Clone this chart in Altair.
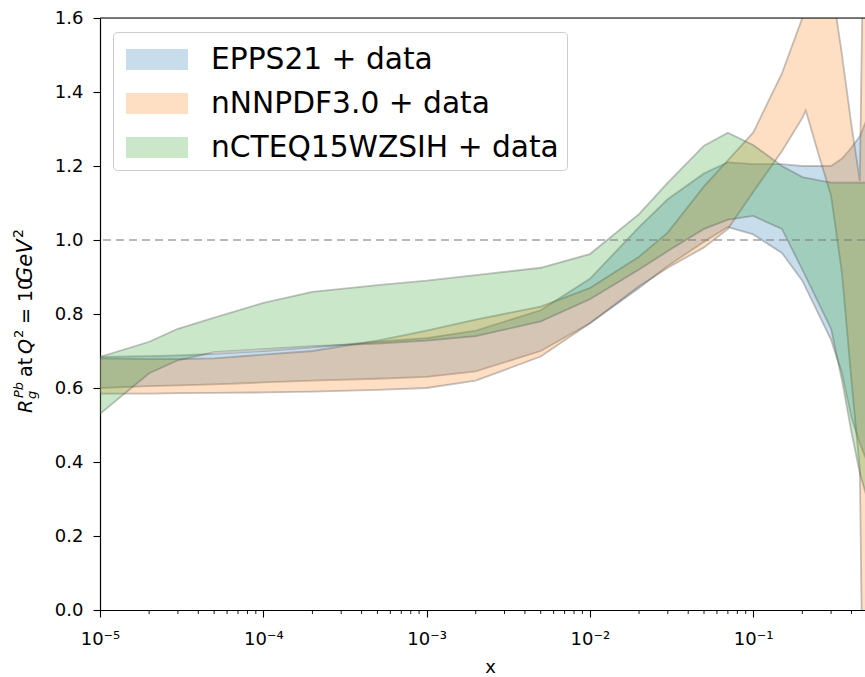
import altair as alt
import pandas as pd

# ---------------- data ----------------
x_base = [1e-5, 2e-5, 3e-5, 5e-5, 1e-4, 2e-4, 5e-4, 1e-3, 2e-3, 5e-3, 1e-2, 2e-2,
          3e-2, 5e-2, 7e-2, 0.1, 0.15, 0.2, 0.3, 0.35, 0.4, 0.45, 0.5]

epps_lo = [0.600, 0.605, 0.607, 0.610, 0.615, 0.620, 0.625, 0.630, 0.645, 0.700, 0.775, 0.870,
           0.930, 0.995, 1.035, 1.015, 0.965, 0.890, 0.730, 0.640, 0.520, 0.450, 0.400]
epps_hi = [0.684, 0.686, 0.688, 0.692, 0.700, 0.710, 0.725, 0.735, 0.755, 0.810, 0.895, 1.035,
           1.110, 1.180, 1.210, 1.205, 1.205, 1.200, 1.200, 1.220, 1.250, 1.280, 1.330]

x_nnpdf = [1e-5, 2e-5, 3e-5, 5e-5, 1e-4, 2e-4, 5e-4, 1e-3, 2e-3, 5e-3, 1e-2, 2e-2,
           3e-2, 5e-2, 7e-2, 0.1, 0.15, 0.2, 0.21, 0.25, 0.3, 0.35, 0.4, 0.45, 0.47, 0.5]
nnpdf_lo = [0.585, 0.585, 0.586, 0.587, 0.588, 0.590, 0.595, 0.600, 0.620, 0.685, 0.775, 0.875,
            0.925, 0.980, 1.030, 1.130, 1.240, 1.330, 1.350, 1.235, 1.120, 0.910, 0.620, 0.380,
            -0.300, -0.300]
nnpdf_hi = [0.680, 0.678, 0.678, 0.680, 0.690, 0.700, 0.728, 0.755, 0.785, 0.820, 0.870, 0.955,
            1.020, 1.145, 1.215, 1.290, 1.450, 1.600, 1.630, 1.720, 1.700, 1.500, 1.310, 1.160,
            1.750, 1.800]

ncteq_lo = [0.530, 0.640, 0.675, 0.697, 0.705, 0.713, 0.720, 0.728, 0.740, 0.780, 0.840, 0.920,
            0.970, 1.030, 1.055, 1.065, 1.030, 0.920, 0.760, 0.620, 0.480, 0.370, 0.300]
ncteq_hi = [0.684, 0.725, 0.760, 0.790, 0.830, 0.860, 0.878, 0.890, 0.905, 0.925, 0.962, 1.070,
            1.155, 1.255, 1.290, 1.257, 1.200, 1.170, 1.155, 1.155, 1.155, 1.155, 1.155]

models = ["EPPS21 + data", "nNNPDF3.0 + data", "nCTEQ15WZSIH + data"]
colors = ["#1f77b4", "#ff7f0e", "#2ca02c"]

x_ticks = [1e-5, 1e-4, 1e-3, 1e-2, 1e-1]
x_tick_labels = ["10⁻⁵", "10⁻⁴", "10⁻³", "10⁻²", "10⁻¹"]
x_max = 0.484
minor_ticks = [m * t for t in x_ticks for m in range(2, 10) if m * t <= x_max]
y_ticks = [0.0, 0.2, 0.4, 0.6, 0.8, 1.0, 1.2, 1.4, 1.6]
ref_line = [1.0]

# ---------------- tables ----------------
df_epps = pd.DataFrame({"x": x_base, "lo": epps_lo, "hi": epps_hi, "model": models[0]})
df_nnpdf = pd.DataFrame({"x": x_nnpdf, "lo": nnpdf_lo, "hi": nnpdf_hi, "model": models[1]})
df_ncteq = pd.DataFrame({"x": x_base, "lo": ncteq_lo, "hi": ncteq_hi, "model": models[2]})
df_minor = pd.DataFrame({"x": minor_ticks})
df_ref = pd.DataFrame({"lo": ref_line})
one = pd.DataFrame({"a": [0]})

W, H = 765, 592
FONT = "DejaVu Sans"

label_expr = " : ".join(
    f"datum.value < {t * 3} ? '{lab}'" for t, lab in zip(x_ticks[:-1], x_tick_labels[:-1])
) + f" : '{x_tick_labels[-1]}'"

xscale = alt.Scale(type="log", domain=[x_ticks[0], x_max], nice=False)
yscale = alt.Scale(domain=[0, 1.6], nice=False, zero=False)

xaxis = alt.Axis(values=x_ticks, labelExpr=label_expr, grid=False, tickSize=7, tickWidth=1.1,
                 tickColor="black", domainColor="black", domainWidth=1.2, labelFontSize=18,
                 labelColor="black", labelPadding=13, labelFlush=False, titleFontSize=18,
                 titleFontWeight="normal", titleColor="black", titleX=390, titleY=62,
                 titleBaseline="alphabetic", titleAlign="center", labelFont=FONT, titleFont=FONT)
yaxis = alt.Axis(values=y_ticks, format=".1f", grid=False, tickSize=7, tickWidth=1.1,
                 tickColor="black", domainColor="black", domainWidth=1.2, labelFontSize=18,
                 labelColor="black", labelPadding=10, labelFont=FONT)

X = alt.X("x:Q", scale=xscale, axis=xaxis, title="x")

legend_path = "M-0.725,-0.53L2.375,-0.53L2.375,0.53L-0.725,0.53Z"
legend = alt.Legend(orient="none", legendX=13, legendY=14, title=None, symbolType=legend_path,
                    symbolSize=1600, symbolOpacity=0.25, symbolStrokeWidth=0, labelFontSize=29.7,
                    labelFont=FONT, labelColor="black", labelOffset=50.5, labelLimit=700,
                    padding=7.5, rowPadding=9, cornerRadius=4, strokeColor="#cccccc",
                    fillColor="rgba(255,255,255,0.8)")

color = alt.Color("model:N", scale=alt.Scale(domain=models, range=colors), legend=legend,
                  sort=models)


def band(df):
    return alt.Chart(df).mark_area(
        clip=True, fillOpacity=0.25, stroke="#555555", strokeOpacity=0.35, strokeWidth=1.8
    ).encode(
        x=X,
        y=alt.Y("lo:Q", scale=yscale, axis=yaxis, title=None),
        y2="hi:Q",
        color=color,
    )


bands = [band(df_epps), band(df_nnpdf), band(df_ncteq)]

ref = alt.Chart(df_ref).mark_rule(color="#808080", opacity=0.55, strokeDash=[8, 5],
                                  strokeWidth=1.8).encode(
    y=alt.Y("lo:Q", scale=yscale, axis=yaxis, title=None)
)

minor = alt.Chart(df_minor).mark_rule(color="black", strokeWidth=0.9, clip=False).encode(
    x=X, y=alt.value(H), y2=alt.value(H + 4)
)

top_spine = alt.Chart(one).mark_rule(color="black", strokeWidth=1.2).encode(
    x=alt.value(0), x2=alt.value(W), y=alt.value(0)
)

# y-axis title pieces (R_g^Pb at Q^2 = 10 GeV^2), rotated
ytitle_pieces = [
    ("R", "italic", 19, 32, 413),
    ("Pb", "italic", 13, 23, 398),
    ("g", "italic", 13, 36, 399),
    ("at", "normal", 19, 32, 377),
    ("Q", "italic", 19, 32, 354),
    ("2", "normal", 13, 23, 338),
    ("= 10", "normal", 19, 32, 324),
    ("GeV", "italic", 21, 32, 283),
    ("2", "normal", 14, 23, 238),
]
texts = []
for txt, style, size, bx, by in ytitle_pieces:
    texts.append(
        alt.Chart(one).mark_text(text=txt, angle=270, align="left", baseline="alphabetic",
                                 fontSize=size, fontStyle=style, font=FONT, color="black",
                                 clip=False).encode(x=alt.value(bx - 100), y=alt.value(by - 18))
    )

chart = alt.layer(*bands, ref, minor, top_spine, *texts).properties(
    width=W, height=H,
    autosize=alt.AutoSizeParams(type="none"),
    padding={"left": 100, "top": 18, "right": 0, "bottom": 67},
).configure_view(stroke=None).configure(font=FONT, background="white")

chart.save("out.html", embed_options={"renderer": "svg", "actions": False})
